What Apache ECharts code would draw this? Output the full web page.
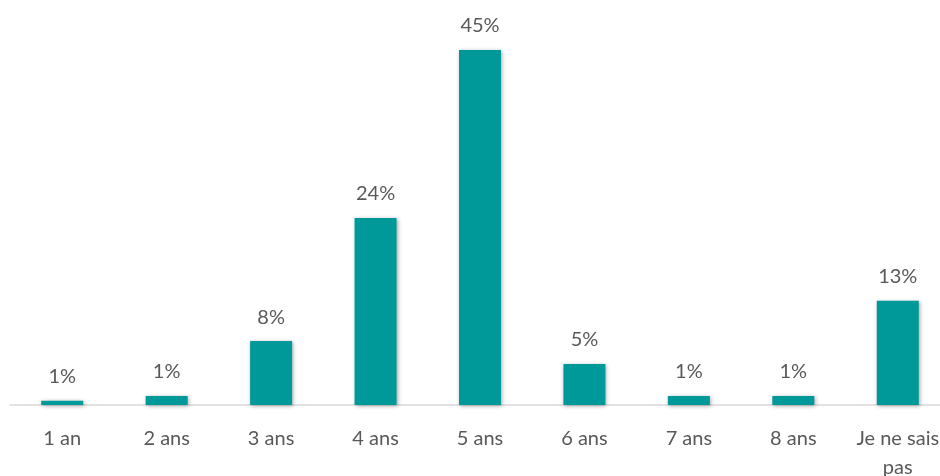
<!DOCTYPE html>
<html>
<head>
<meta charset="utf-8">
<script src="https://cdn.jsdelivr.net/npm/echarts@6/dist/echarts.min.js"></script>
<style>
  html, body { margin: 0; padding: 0; background: #ffffff; }
  #chart { width: 940px; height: 476px; }
</style>
</head>
<body>
<div id="chart"></div>
<script>
const categories = ['1 an', '2 ans', '3 ans', '4 ans', '5 ans', '6 ans', '7 ans', '8 ans', 'Je ne sais pas'];
const values = [0.55, 1.15, 8.1, 23.7, 45, 5.2, 1.15, 1.15, 13.2];

const chart = echarts.init(document.getElementById('chart'), null, { renderer: 'canvas' });
chart.setOption({
  animation: false,
  backgroundColor: '#ffffff',
  grid: { left: 10, width: 940, top: 50, bottom: 71, containLabel: false, outerBoundsMode: 'none' },
  xAxis: {
    type: 'category',
    data: categories,
    axisLine: { lineStyle: { color: '#d9d9d9', width: 1.5 } },
    axisTick: { show: false },
    axisLabel: {
      interval: 0,
      hideOverlap: false,
      color: '#595959',
      fontFamily: 'Lato',
      fontSize: 20,
      lineHeight: 29,
      margin: 19,
      formatter: function (v) { return v === 'Je ne sais pas' ? 'Je ne sais\npas' : v; }
    }
  },
  yAxis: {
    type: 'value',
    min: 0,
    max: 45,
    show: false,
    splitLine: { show: false }
  },
  series: [{
    type: 'bar',
    data: values,
    barWidth: 42,
    itemStyle: {
      color: '#009999',
      shadowColor: 'rgba(0,0,0,0.35)',
      shadowBlur: 4,
      shadowOffsetX: 1,
      shadowOffsetY: 1
    },
    label: {
      show: true,
      position: 'top',
      distance: 14,
      color: '#595959',
      fontFamily: 'Lato',
      fontSize: 20,
      formatter: function (p) { return Math.round(p.value) + '%'; }
    }
  }]
});
</script>
</body>
</html>
